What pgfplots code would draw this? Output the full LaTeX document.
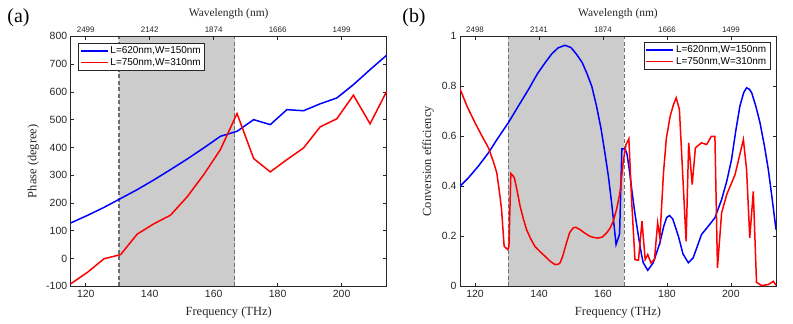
\documentclass[border=0pt]{standalone}
\usepackage{fontspec}
\setmainfont{Liberation Serif}
\setsansfont{Liberation Sans}
\usepackage{pgfplots}
\pgfplotsset{compat=1.18}
\definecolor{axgray}{RGB}{38,38,38}
\definecolor{shade}{RGB}{204,204,204}
\definecolor{dashgray}{RGB}{110,110,110}
\definecolor{mblue}{RGB}{0,0,255}
\definecolor{mred}{RGB}{255,0,0}
\pgfplotsset{
  base/.style={
    width=316bp, height=250bp, scale only axis,
    xmin=115.3, xmax=214.1,
    xtick={120,140,...,200},
    /pgf/number format/assume math mode=true,
    tick label style={font=\sffamily\fontsize{10.5}{12}\selectfont, text=axgray},
    tick align=inside, major tick length=3.5bp,
    axis line style={axgray, line width=0.6bp},
    every tick/.style={axgray, line width=0.6bp},
    xtick pos=both, ytick pos=both,
    xticklabel pos=bottom, yticklabel pos=left,
    xlabel={Frequency (THz)},
    xlabel style={font=\rmfamily\fontsize{12.5}{14}\selectfont, text=axgray, at={(axis description cs:0.5,-0.105)}, anchor=center},
    legend cell align=left,
    legend image code/.code={\draw[#1, line width=1.5bp] (0bp,0bp) -- (27bp,0bp);},
    legend style={font=\sffamily\fontsize{10}{11}\selectfont, draw=axgray, inner sep=1.5bp, row sep=-1bp},
  },
  topax/.style={
    width=316bp, height=250bp, scale only axis,
    xmin=115.3, xmax=214.1, ymin=0, ymax=1,
    axis x line*=top, axis y line=none,
    xtick={120,140,...,200},
    tick align=inside, major tick length=3.5bp,
    axis line style={axgray, line width=0.6bp},
    every tick/.style={axgray, line width=0.6bp},
    tick label style={font=\sffamily\fontsize{8}{10}\selectfont, text=axgray},
    xlabel={Wavelength (nm)},
    xlabel style={font=\rmfamily\fontsize{11.5}{13}\selectfont, text=axgray, at={(axis description cs:0.5,1.092)}, anchor=center},
  },
  dline/.style={dashgray, line width=1.1bp, dash pattern=on 4bp off 2.5bp, forget plot},
}
\begin{document}
\begin{tikzpicture}
\useasboundingbox (0,0) rectangle (793bp,324bp);
% ---------- panel (a) ----------
\begin{axis}[base, at={(70.7bp,37.7bp)}, anchor=south west,
  ymin=-100, ymax=800, ytick={-100,0,...,800},
  ylabel={Phase (degree)},
  ylabel style={font=\rmfamily\fontsize{12.5}{14}\selectfont, text=axgray, at={(axis description cs:-0.118,0.5)}, anchor=center},
  legend style={at={(axis description cs:0.024,0.973)}, anchor=north west}]
\addplot[fill=shade, draw=none, forget plot] coordinates {(130.4,-100)(130.4,800)(166.6,800)(166.6,-100)} -- cycle;
\addplot[dline] coordinates {(130.4,-100)(130.4,800)};
\addplot[dline] coordinates {(166.6,-100)(166.6,800)};
\addplot[mblue, line width=1.5bp] coordinates {
(115.3,128)(120.5,155)(125.7,184)(130.9,216)(136.1,248)(141.3,283)(146.5,320)(151.7,358)(156.9,398)(162.1,440)(167.3,458)(172.5,500)(177.7,482)(182.9,536)(188.1,532)(193.3,557)(198.5,578)(203.7,626)(208.9,680)(214.1,732)};
\addlegendentry{L=620nm,W=150nm}
\addplot[mred, line width=1.5bp] coordinates {
(115.3,-91)(120.5,-50)(125.7,-1)(130.9,14)(136.1,88)(141.3,125)(146.5,156)(151.7,222)(156.9,302)(162.1,392)(167.3,522)(172.5,360)(177.7,312)(182.9,356)(188.1,398)(193.3,474)(198.5,503)(203.7,588)(208.9,485)(214.1,602)};
\addlegendentry{L=750nm,W=310nm}
\end{axis}
\begin{axis}[topax, at={(70.7bp,37.7bp)}, anchor=south west,
  xticklabels={2499,2142,1874,1666,1499}]
\end{axis}
% ---------- panel (b) ----------
\begin{axis}[base, at={(460bp,37.7bp)}, anchor=south west,
  ymin=0, ymax=1, ytick={0,0.2,0.4,0.6,0.8,1},
  yticklabels={0,0.2,0.4,0.6,0.8,1},
  ylabel={Conversion efficiency},
  ylabel style={font=\rmfamily\fontsize{12.5}{14}\selectfont, text=axgray, at={(axis description cs:-0.101,0.5)}, anchor=center},
  legend style={at={(axis description cs:0.981,0.977)}, anchor=north east}]
\addplot[fill=shade, draw=none, forget plot] coordinates {(130.4,0)(130.4,1)(166.6,1)(166.6,0)} -- cycle;
\addplot[dline] coordinates {(130.4,0)(130.4,1)};
\addplot[dline] coordinates {(166.6,0)(166.6,1)};
\addplot[mblue, line width=1.5bp] coordinates {
(115.3,0.400)(118,0.435)(121,0.48)(124.2,0.534)(127,0.59)(130.4,0.654)(133.5,0.72)(136.7,0.787)(139.5,0.85)(141.9,0.894)(144,0.93)(146,0.954)(148.1,0.964)(150,0.955)(151.8,0.927)(153.5,0.895)(154.9,0.854)(156.5,0.80)(158.0,0.72)(159.4,0.63)(160.6,0.534)(161.7,0.44)(162.7,0.334)(163.5,0.24)(164.1,0.167)(164.8,0.194)(165.2,0.21)(165.7,0.45)(165.9,0.55)(166.9,0.55)(167.5,0.53)(168.2,0.47)(169.0,0.387)(170.0,0.29)(171.1,0.2)(172.0,0.13)(172.6,0.094)(174.0,0.064)(175.7,0.094)(177.8,0.174)(179.0,0.24)(179.9,0.275)(180.8,0.283)(181.8,0.27)(183.6,0.2)(185.0,0.13)(186.7,0.094)(188.2,0.114)(189.5,0.16)(190.8,0.207)(192.9,0.24)(195.0,0.274)(197.1,0.347)(198.7,0.42)(200.2,0.507)(201.5,0.62)(202.8,0.72)(204.0,0.775)(204.9,0.794)(205.8,0.788)(206.5,0.774)(207.8,0.72)(209.1,0.654)(210.5,0.56)(211.7,0.467)(212.8,0.36)(214.1,0.227)};
\addlegendentry{L=620nm,W=150nm}
\addplot[mred, line width=1.5bp] coordinates {
(115.3,0.79)(117.5,0.72)(120.0,0.654)(122,0.605)(124.2,0.554)(125.7,0.50)(126.8,0.454)(127.6,0.38)(128.3,0.307)(129.1,0.16)(130.2,0.147)(130.6,0.16)(131.2,0.451)(131.7,0.445)(132.3,0.434)(133.2,0.38)(134.1,0.32)(135.1,0.27)(136.1,0.227)(137.4,0.19)(138.7,0.16)(140.2,0.14)(141.9,0.12)(143.5,0.10)(145.0,0.087)(146.0,0.088)(146.6,0.094)(147.4,0.12)(148.6,0.174)(149.6,0.215)(150.7,0.234)(151.5,0.236)(152.8,0.227)(154.3,0.213)(155.9,0.2)(157.2,0.195)(158.5,0.193)(159.8,0.197)(161.1,0.213)(162.2,0.232)(163.2,0.26)(164.3,0.31)(165.3,0.374)(166.3,0.494)(167.2,0.567)(168.1,0.59)(169.0,0.334)(170.0,0.107)(171.1,0.104)(172.2,0.26)(173.2,0.107)(174.0,0.127)(175.0,0.094)(176.1,0.107)(177.1,0.254)(177.8,0.194)(178.9,0.45)(179.8,0.59)(181.0,0.68)(182.0,0.725)(182.9,0.754)(183.9,0.707)(186.0,0.18)(186.8,0.574)(187.9,0.407)(188.9,0.554)(190.8,0.574)(192.4,0.567)(193.9,0.6)(195.0,0.6)(195.8,0.074)(197.1,0.294)(198.7,0.367)(201.3,0.447)(203.9,0.587)(204.9,0.467)(205.9,0.194)(207.0,0.38)(208.0,0.016)(209.6,0.003)(211.7,0.007)(213.3,0.02)(214.1,0.004)};
\addlegendentry{L=750nm,W=310nm}
\end{axis}
\begin{axis}[topax, at={(460bp,37.7bp)}, anchor=south west,
  xticklabels={2498,2141,1874,1666,1499}]
\end{axis}
\node[font=\rmfamily\fontsize{20}{22}\selectfont, text=black] at (18.5bp,306.5bp) {(a)};
\node[font=\rmfamily\fontsize{20}{22}\selectfont, text=black] at (414bp,306.5bp) {(b)};
\end{tikzpicture}
\end{document}
